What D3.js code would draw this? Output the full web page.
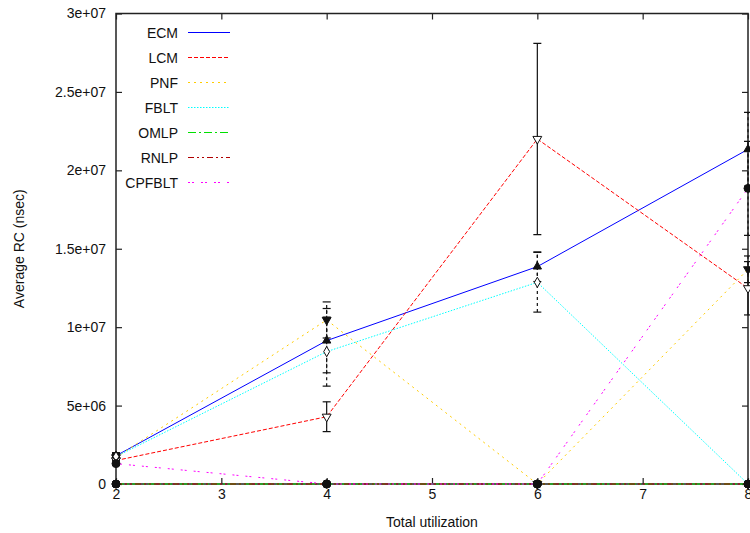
<!DOCTYPE html>
<html>
<head>
<meta charset="utf-8">
<script src="https://cdn.jsdelivr.net/npm/d3@7"></script>
<style>
  html, body { margin: 0; padding: 0; background: #fff; }
  svg { display: block; font-family: "Liberation Sans", Arial, sans-serif; }
</style>
</head>
<body>
<svg id="chart" width="750" height="533"></svg>
<script>
// Utilization levels on the x axis
const utilization = [2, 4, 6, 8];
const seriesNames = ["ECM", "LCM", "PNF", "FBLT", "OMLP", "RNLP", "CPFBLT"];

// Average response cost (nsec) and error half-widths per protocol
const ecmValues    = [1.8e6, 9.14e6, 13.86e6, 21.34e6];
const ecmErrors    = [0.2e6, 2.05e6, 0.95e6, 2.35e6];
const lcmValues    = [1.5e6, 4.29e6, 22.0e6, 12.48e6];
const lcmErrors    = [0.15e6, 0.95e6, 6.1e6, 1.7e6];
const pnfValues    = [1.7e6, 10.46e6, 0, 13.69e6];
const pnfErrors    = [0.2e6, 1.15e6, 0, 0.85e6];
const fbltValues   = [1.75e6, 8.44e6, 12.86e6, 0];
const fbltErrors   = [0.2e6, 2.2e6, 1.9e6, 0];
const omlpValues   = [0, 0, 0, 0];
const omlpErrors   = [0, 0, 0, 0];
const rnlpValues   = [0, 0, 0, 0];
const rnlpErrors   = [0, 0, 0, 0];
const cpfbltValues = [1.3e6, 0, 0, 18.85e6];
const cpfbltErrors = [0.1e6, 0, 0, 3.0e6];

const xTicks = [2, 3, 4, 5, 6, 7, 8];
const yTicks = [0, 5e6, 1e7, 1.5e7, 2e7, 2.5e7, 3e7];
const yTickLabels = ["0", "5e+06", "1e+07", "1.5e+07", "2e+07", "2.5e+07", "3e+07"];

const series = [
  { name: "ECM",    values: ecmValues,    errors: ecmErrors,    color: "#0000ff", dash: null,             marker: "triUpFilled",   barDash: "3,3" },
  { name: "LCM",    values: lcmValues,    errors: lcmErrors,    color: "#ff0000", dash: "4,2",            marker: "triDownOpen",   barDash: null },
  { name: "PNF",    values: pnfValues,    errors: pnfErrors,    color: "#ffcc00", dash: "2,4",            marker: "triDownFilled", barDash: "3,3" },
  { name: "FBLT",   values: fbltValues,   errors: fbltErrors,   color: "#00ffff", dash: "1.5,1.5",        marker: "diamondOpen",   barDash: "3,3" },
  { name: "OMLP",   values: omlpValues,   errors: omlpErrors,   color: "#00e000", dash: "8,3,2,3",        marker: "circleFilled",  barDash: "3,3" },
  { name: "RNLP",   values: rnlpValues,   errors: rnlpErrors,   color: "#b00000", dash: "6,3,2,3,2,3",    marker: "circleFilled",  barDash: "3,3" },
  { name: "CPFBLT", values: cpfbltValues, errors: cpfbltErrors, color: "#ff00ff", dash: "2,2,2,7",        marker: "circleFilled",  barDash: "3,3" }
];

const svg = d3.select("#chart");
const plot = { left: 116, right: 748, top: 13.5, bottom: 484 };

const x = d3.scaleLinear().domain([2, 8]).range([plot.left, plot.right]);
const y = d3.scaleLinear().domain([0, 3e7]).range([plot.bottom, plot.top]);

const tickLen = 6;
const fontSize = 14;

// Plot frame
svg.append("rect")
  .attr("x", plot.left).attr("y", plot.top)
  .attr("width", plot.right - plot.left).attr("height", plot.bottom - plot.top)
  .attr("fill", "none").attr("stroke", "#222").attr("stroke-width", 1.5);

// Inward ticks, mirrored on opposite sides
const xAxisBottom = d3.axisBottom(x).tickValues(xTicks).tickSizeInner(-tickLen).tickSizeOuter(0).tickPadding(5).tickFormat(d3.format("d"));
const xAxisTop = d3.axisTop(x).tickValues(xTicks).tickSizeInner(-tickLen).tickSizeOuter(0).tickFormat("");
const yAxisLeft = d3.axisLeft(y).tickValues(yTicks).tickSizeInner(-tickLen).tickSizeOuter(0).tickPadding(10).tickFormat((d, i) => yTickLabels[i]);
const yAxisRight = d3.axisRight(y).tickValues(yTicks).tickSizeInner(-tickLen).tickSizeOuter(0).tickFormat("");

function styleAxis(g) {
  g.select(".domain").remove();
  g.selectAll(".tick line").attr("stroke", "#222").attr("stroke-width", 1.2);
  g.selectAll(".tick text").attr("fill", "#111").attr("font-size", fontSize).attr("font-family", "Liberation Sans, Arial, sans-serif");
}

svg.append("g").attr("transform", `translate(0,${plot.bottom})`).call(xAxisBottom).call(styleAxis);
svg.append("g").attr("transform", `translate(0,${plot.top})`).call(xAxisTop).call(styleAxis);
svg.append("g").attr("transform", `translate(${plot.left},0)`).call(yAxisLeft).call(styleAxis);
svg.append("g").attr("transform", `translate(${plot.right},0)`).call(yAxisRight).call(styleAxis);

// Axis titles
svg.append("text")
  .attr("x", (plot.left + plot.right) / 2).attr("y", 527)
  .attr("text-anchor", "middle").attr("font-size", fontSize).attr("fill", "#111")
  .text("Total utilization");
svg.append("text")
  .attr("transform", `translate(24,${(plot.top + plot.bottom) / 2}) rotate(-90)`)
  .attr("text-anchor", "middle").attr("font-size", fontSize).attr("fill", "#111")
  .text("Average RC (nsec)");

svg.append("defs").append("clipPath").attr("id", "plotClip")
  .append("rect").attr("x", plot.left - 10).attr("y", plot.top - 10)
  .attr("width", plot.right - plot.left + 20).attr("height", plot.bottom - plot.top + 20);

const layer = svg.append("g").attr("clip-path", "url(#plotClip)");

const line = d3.line().x((d, i) => x(utilization[i])).y(d => y(d));

// Series lines
series.forEach(s => {
  layer.append("path")
    .datum(s.values)
    .attr("d", line)
    .attr("fill", "none")
    .attr("stroke", s.color)
    .attr("stroke-width", 1)
    .attr("stroke-dasharray", s.dash);
});

// Error bars
const capHalf = 4;
series.forEach(s => {
  s.values.forEach((v, i) => {
    const e = s.errors[i];
    if (!e) return;
    const cx = x(utilization[i]);
    const g = layer.append("g").attr("stroke", "#111").attr("stroke-width", 1.2);
    g.append("line").attr("x1", cx).attr("x2", cx).attr("y1", y(v - e)).attr("y2", y(v + e))
      .attr("stroke-dasharray", s.barDash);
    g.append("line").attr("x1", cx - capHalf).attr("x2", cx + capHalf).attr("y1", y(v + e)).attr("y2", y(v + e));
    g.append("line").attr("x1", cx - capHalf).attr("x2", cx + capHalf).attr("y1", y(v - e)).attr("y2", y(v - e));
  });
});

// Point markers
const sym = {
  triUpFilled:   { type: d3.symbolTriangle, rot: 0,   fill: true,  size: 30 },
  triDownOpen:   { type: d3.symbolTriangle, rot: 180, fill: false, size: 34 },
  triDownFilled: { type: d3.symbolTriangle, rot: 180, fill: true,  size: 34 },
  diamondOpen:   { type: d3.symbolDiamond,  rot: 0,   fill: false, size: 30 },
  circleFilled:  { type: d3.symbolCircle,   rot: 0,   fill: true,  size: 50 }
};
series.forEach(s => {
  const m = sym[s.marker];
  s.values.forEach((v, i) => {
    layer.append("path")
      .attr("d", d3.symbol().type(m.type).size(m.size)())
      .attr("transform", `translate(${x(utilization[i])},${y(v)}) rotate(${m.rot})`)
      .attr("fill", m.fill ? "#111" : "#fff")
      .attr("stroke", "#111")
      .attr("stroke-width", 1);
  });
});

// Legend
const legend = svg.append("g");
series.forEach((s, i) => {
  const ly = 32.5 + i * 25;
  legend.append("text")
    .attr("x", 178).attr("y", ly + 5)
    .attr("text-anchor", "end").attr("font-size", fontSize).attr("fill", "#111")
    .text(s.name);
  legend.append("line")
    .attr("x1", 188).attr("x2", 230).attr("y1", ly).attr("y2", ly)
    .attr("stroke", s.color).attr("stroke-width", 1)
    .attr("stroke-dasharray", s.dash);
});
</script>
</body>
</html>
